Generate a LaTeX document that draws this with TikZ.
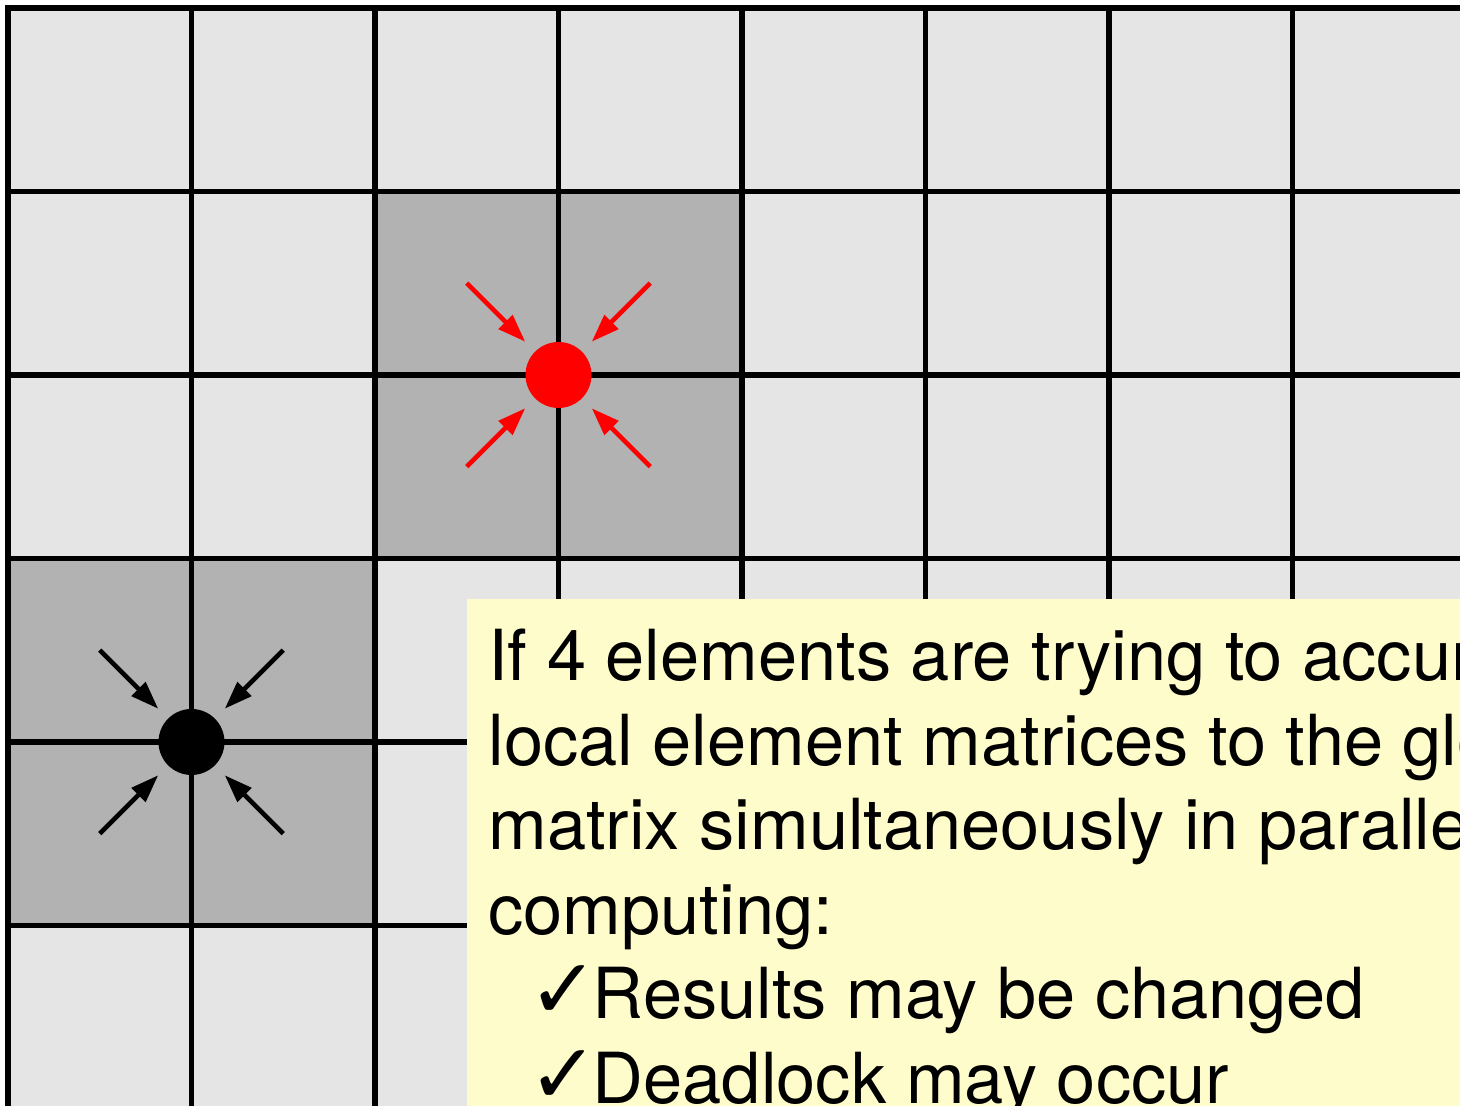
\documentclass[tikz,border=0pt]{standalone}
\usepackage{fontspec}
\setmainfont{TeX Gyre Heros}
\newfontfamily\symbolfont{DejaVu Sans}
\usetikzlibrary{positioning, calc, arrows.meta}

\tikzset{
  cellline/.style={line width=2.6pt, line cap=rect},
  dot/.style={circle, inner sep=0pt, outer sep=0pt, minimum size=33pt},
  push/.style={line width=2.3pt, -{Triangle[length=14pt, width=9.5pt]}, shorten >=7pt},
  textline/.style={anchor=base west, inner sep=0pt, font=\fontsize{35.2pt}{42.3pt}\selectfont},
}
\newcommand{\okmark}{{\symbolfont\fontsize{42pt}{42pt}\selectfont ✓}}

\begin{document}
\begin{tikzpicture}[x=91.75pt, y=91.75pt]
        \useasboundingbox (-0.0436,0.0163) rectangle (7.913,6.0436);
        \clip (-0.0436,0.0163) rectangle (7.913,6.0436);

        % 1. Mesh of elements, shaded around the shared nodes
        \fill[gray!20] (0,-0.5) rectangle (8.5,6);
        \fill[gray!60] (2,3) rectangle (4,5);
        \fill[gray!60] (0,1) rectangle (2,3);
        \draw[cellline, step=1] (0,-0.5) grid (8.5,6);

        % 2. Shared nodes
        \node[dot, fill=red] (P1) at (3,4) {};
        \node[dot, fill=black] (P2) at (1,2) {};

        % 3. Four elements pushing into the red node
        \coordinate (P1nw) at ([shift={(-0.5,0.5)}]P1.center);
        \coordinate (P1ne) at ([shift={(0.5,0.5)}]P1.center);
        \coordinate (P1sw) at ([shift={(-0.5,-0.5)}]P1.center);
        \coordinate (P1se) at ([shift={(0.5,-0.5)}]P1.center);
        \draw[push, red] (P1nw) -- (P1);
        \draw[push, red] (P1ne) -- (P1);
        \draw[push, red] (P1sw) -- (P1);
        \draw[push, red] (P1se) -- (P1);

        % 4. Four elements pushing into the black node
        \coordinate (P2nw) at ([shift={(-0.5,0.5)}]P2.center);
        \coordinate (P2ne) at ([shift={(0.5,0.5)}]P2.center);
        \coordinate (P2sw) at ([shift={(-0.5,-0.5)}]P2.center);
        \coordinate (P2se) at ([shift={(0.5,-0.5)}]P2.center);
        \draw[push] (P2nw) -- (P2);
        \draw[push] (P2ne) -- (P2);
        \draw[push] (P2sw) -- (P2);
        \draw[push] (P2se) -- (P2);

        % 5. Note box, running off the page
        \fill[yellow!20] (2.5,2.777) rectangle (8.5,-0.5);
        \node[textline] (l1) at (2.616,2.335) {If 4 elements are trying to accumulate their};
        \node[textline] (l2) at ([yshift=-42.3pt]l1.base west) {local element matrices to the global};
        \node[textline] (l3) at ([yshift=-42.3pt]l2.base west) {matrix simultaneously in parallel};
        \node[textline] (l4) at ([yshift=-42.3pt]l3.base west) {computing:};
        \node[textline] (l5) at ([yshift=-42.3pt]l4.base west) {\hspace*{20pt}\okmark\hspace{-3pt}Results may be changed};
        \node[textline] (l6) at ([yshift=-42.3pt]l5.base west) {\hspace*{20pt}\okmark\hspace{-3pt}Deadlock may occur};

\end{tikzpicture}
\end{document}
